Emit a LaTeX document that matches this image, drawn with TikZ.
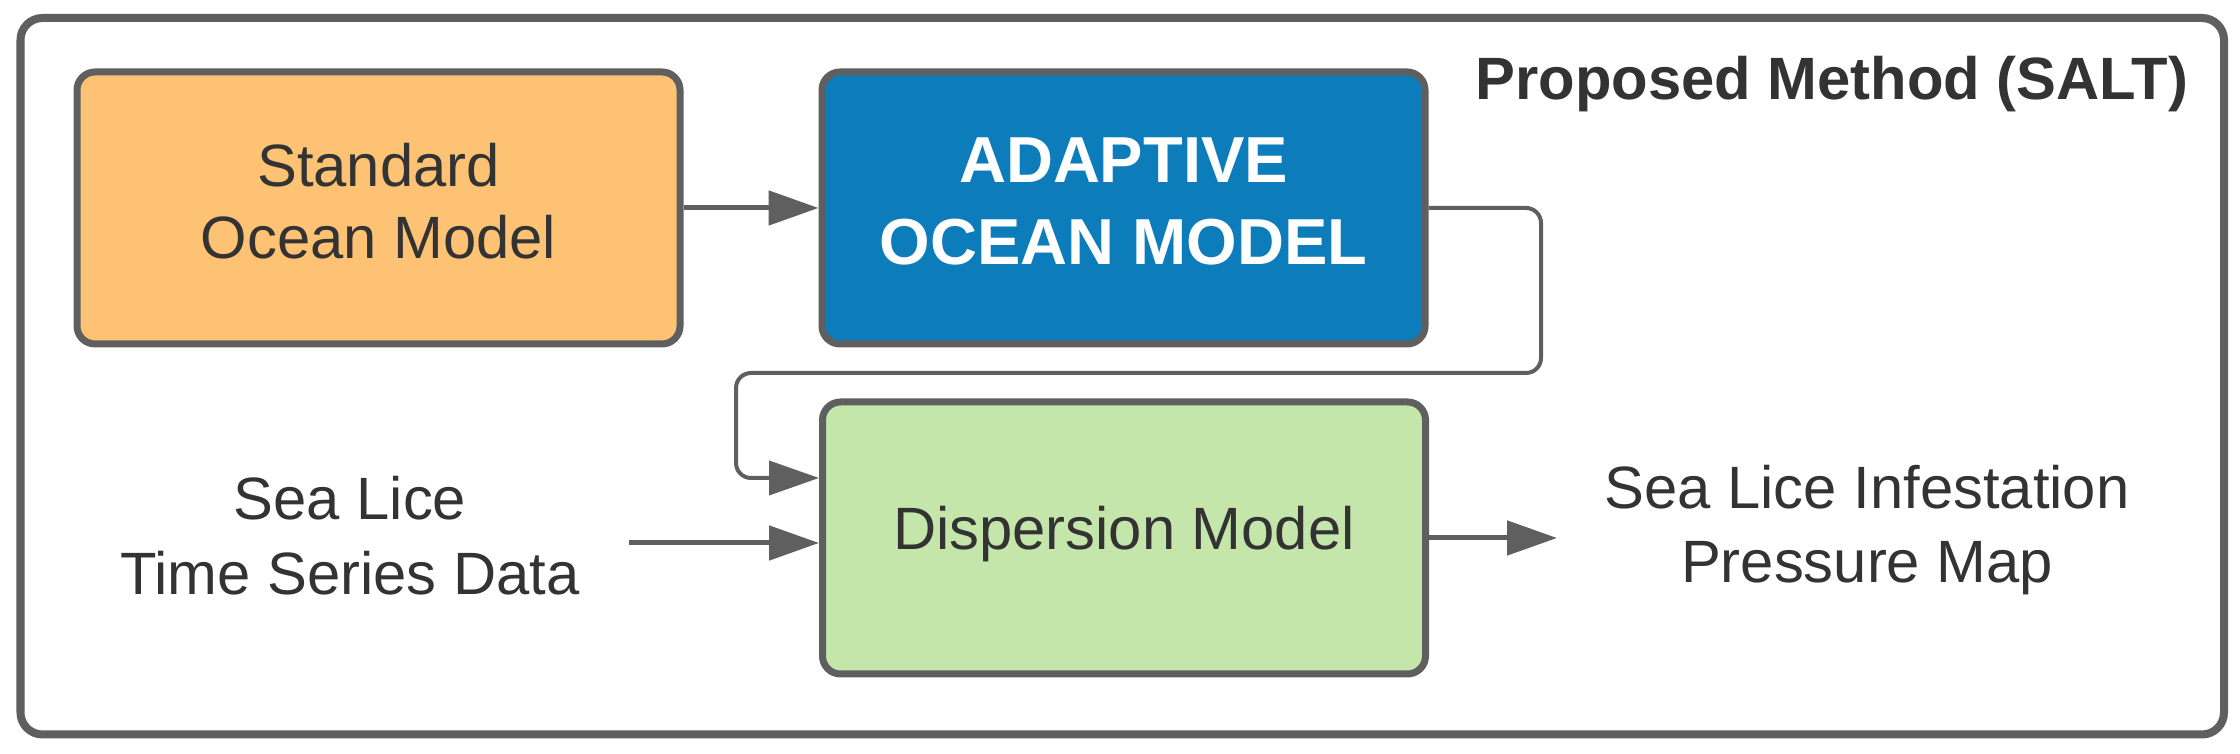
\documentclass[tikz,border=0pt]{standalone}
\usepackage{fontspec}
\setmainfont{Liberation Sans}
\usetikzlibrary{arrows.meta}
\definecolor{strokegray}{HTML}{5F5F5F}
\definecolor{txtgray}{HTML}{333333}
\definecolor{orangefill}{HTML}{FDC274}
\definecolor{bluefill}{HTML}{0C7CBA}
\definecolor{greenfill}{HTML}{C5E6AB}
\begin{document}
\begin{tikzpicture}[
  x=1cm,y=1cm,
  framebox/.style={draw=strokegray, line width=0.08cm, rounded corners=0.22cm, minimum width=22.035cm, minimum height=7.165cm, inner sep=0pt},
  boxnode/.style={draw=strokegray, line width=0.07cm, rounded corners=0.18cm, minimum width=6.03cm, minimum height=2.72cm, align=center, inner sep=0pt, text=txtgray, font=\fontsize{17}{20.5}\selectfont},
  arr/.style={draw=strokegray, line width=0.05cm, -{Triangle[length=0.5cm,width=0.34cm]}},
  fb/.style={draw=strokegray, line width=0.04cm, rounded corners=0.15cm, -{Triangle[length=0.5cm,width=0.34cm]}},
  plain/.style={align=center, text=txtgray, font=\fontsize{17}{21.3}\selectfont, inner sep=0pt}
]
\useasboundingbox (0,0) rectangle (22.4,7.54);
\fill[white] (0,0) rectangle (22.4,7.54);
\node[framebox] (frame) at (11.2225,3.7775) {};
\node[anchor=base east, inner sep=0pt, text=txtgray, font=\bfseries\fontsize{17}{21}\selectfont] (title) at (21.89,6.54) {Proposed Method (SALT)};

\node[boxnode, fill=orangefill] (std) at (3.785,5.46) {Standard\\Ocean Model\rule[-0.14cm]{0pt}{0pt}};
\node[boxnode, fill=bluefill, text=white, font=\bfseries\fontsize{18.5}{23.3}\selectfont] (ada) at (11.235,5.46) {ADAPTIVE\\OCEAN MODEL\rule[-0.13cm]{0pt}{0pt}};
\node[boxnode, fill=greenfill] (disp) at (11.24,2.16) {Dispersion Model\rule[-0.2cm]{0pt}{0pt}};

\node[plain] (sealice) at (3.5,2.185) {Sea Lice\\Time Series Data};
\node[plain] (outtext) at (18.67,2.24) {Sea Lice Infestation\\Pressure Map};

\coordinate (fb1) at (15.41,5.46);
\coordinate (fb2) at (7.36,3.81);
\coordinate (slstart) at (6.29,2.11);
\coordinate (outtip) at (15.57,2.16);

\draw[arr] (std.east) -- (ada.west);
\draw[fb] (ada.east) -- (fb1) |- (fb2) |- ([yshift=0.6cm]disp.west);
\draw[arr] (slstart) -- (slstart -| disp.west);
\draw[arr] (disp.east) -- (outtip);
\end{tikzpicture}
\end{document}
